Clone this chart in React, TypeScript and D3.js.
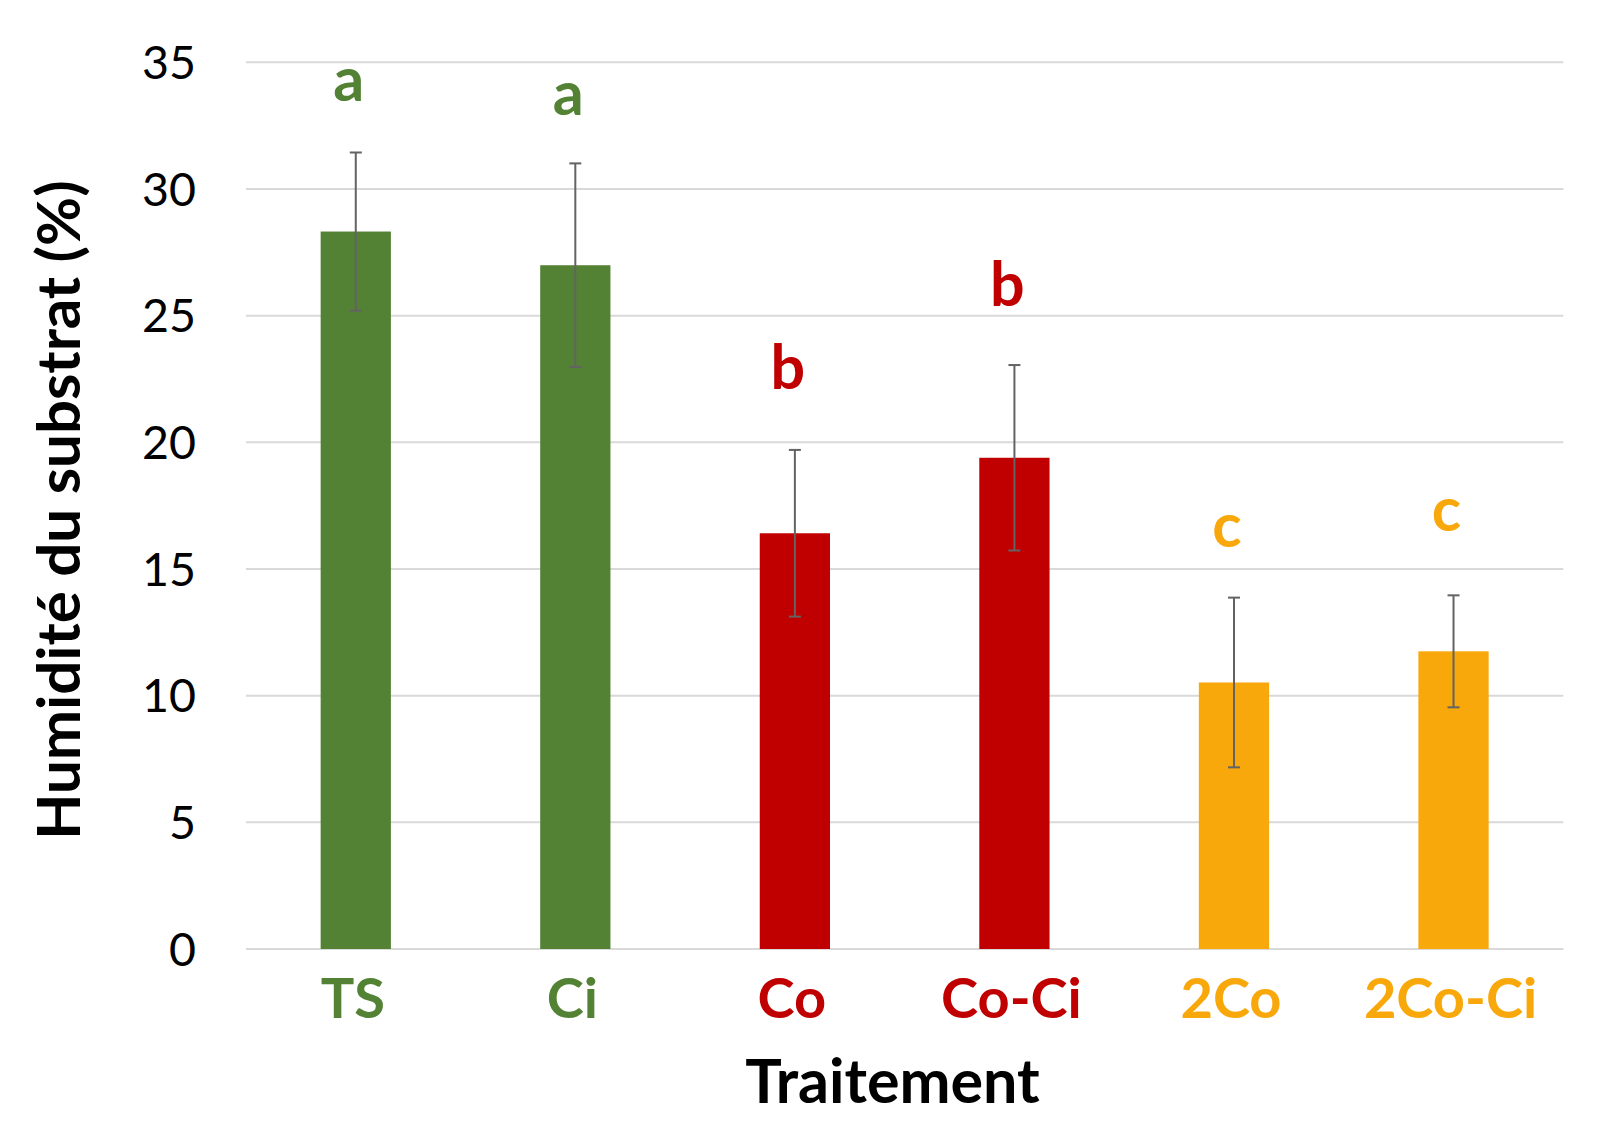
import React from "react";
import * as d3 from "d3";

// Substrate moisture per treatment
const categories = ["TS", "Ci", "Co", "Co-Ci", "2Co", "2Co-Ci"];
const means = [28.32, 26.99, 16.41, 19.39, 10.52, 11.75];
const errors = [3.12, 4.02, 3.29, 3.66, 3.35, 2.21];
const groupLetters = ["a", "a", "b", "b", "c", "c"];
// where each significance letter sits (baseline, in % units)
const letterAt = [33.46, 32.92, 22.09, 25.37, 15.86, 16.5];
const yTicks = [0, 5, 10, 15, 20, 25, 30, 35];

const palette: Record<string, string> = {
  a: "#548235",
  b: "#C00000",
  c: "#F9A80B",
};

const WIDTH = 1602;
const HEIGHT = 1124;
const FONT = "Lato, 'Open Sans', sans-serif";

export default function App() {
  const x = d3
    .scaleBand<string>()
    .domain(categories)
    .range([246, 1563.3])
    .paddingInner(0.68)
    .paddingOuter(0.34);

  const y = d3.scaleLinear().domain([0, 35]).range([949, 62.3]);

  const rows = categories.map((c, i) => ({
    cat: c,
    mean: means[i],
    err: errors[i],
    letter: groupLetters[i],
    letterY: letterAt[i],
    color: palette[groupLetters[i]],
  }));

  const [x0, x1] = x.range();
  const mid = (c: string) => (x(c) as number) + x.bandwidth() / 2;

  return (
    <div style={{ position: "absolute", left: 0, top: 0 }}>
      <svg width={WIDTH} height={HEIGHT} style={{ display: "block", background: "#fff" }}>
        {/* gridlines */}
        {yTicks.map((t) => (
          <line key={t} x1={x0} x2={x1} y1={y(t)} y2={y(t)} stroke="#D9D9D9" strokeWidth={2} />
        ))}

        {/* y tick labels */}
        {yTicks.map((t) => (
          <text
            key={"l" + t}
            x={196}
            y={y(t)}
            dy="0.36em"
            textAnchor="end"
            fontFamily={FONT}
            fontSize={46.5}
            fill="#000"
          >
            {t}
          </text>
        ))}

        {/* bars */}
        {rows.map((d) => (
          <rect
            key={d.cat}
            x={x(d.cat)}
            y={y(d.mean)}
            width={x.bandwidth()}
            height={y(0) - y(d.mean)}
            fill={d.color}
          />
        ))}

        {/* error bars */}
        {rows.map((d) => {
          const cx = mid(d.cat);
          const top = y(d.mean + d.err);
          const bot = y(d.mean - d.err);
          return (
            <g key={"e" + d.cat} stroke="#636363" strokeWidth={2}>
              <line x1={cx} x2={cx} y1={top} y2={bot} />
              <line x1={cx - 6} x2={cx + 6} y1={top} y2={top} />
              <line x1={cx - 6} x2={cx + 6} y1={bot} y2={bot} />
            </g>
          );
        })}

        {/* significance letters */}
        {rows.map((d) => (
          <text
            key={"s" + d.cat}
            x={mid(d.cat) - 7}
            y={y(d.letterY)}
            textAnchor="middle"
            fontFamily={FONT}
            fontWeight="bold"
            fontSize={61}
            fill={d.color}
          >
            {d.letter}
          </text>
        ))}

        {/* category labels */}
        {rows.map((d) => (
          <text
            key={"c" + d.cat}
            x={mid(d.cat) - 3}
            y={1017.7}
            textAnchor="middle"
            fontFamily={FONT}
            fontWeight="bold"
            fontSize={56}
            fill={d.color}
          >
            {d.cat}
          </text>
        ))}

        {/* axis titles */}
        <text
          x={892.5}
          y={1103.3}
          textAnchor="middle"
          fontFamily={FONT}
          fontWeight="bold"
          fontSize={61}
          fill="#000"
        >
          Traitement
        </text>
        <text
          transform={`translate(80,510) rotate(-90)`}
          textAnchor="middle"
          fontFamily={FONT}
          fontWeight="bold"
          fontSize={60}
          fill="#000"
        >
          Humidité du substrat (%)
        </text>
      </svg>
    </div>
  );
}
